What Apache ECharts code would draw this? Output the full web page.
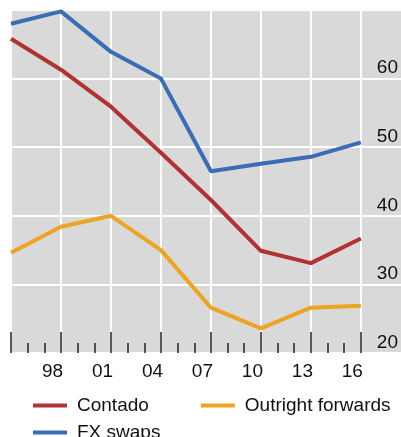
<!DOCTYPE html>
<html>
<head>
<meta charset="utf-8">
<script src="https://cdn.jsdelivr.net/npm/echarts@6/dist/echarts.min.js"></script>
<style>
html,body{margin:0;padding:0;background:#fff;}
#c{width:401px;height:437px;}
</style>
</head>
<body>
<div id="c"></div>
<script>
const years = [1995, 1998, 2001, 2004, 2007, 2010, 2013, 2016];
const contado = [65.8, 61.3, 55.9, 49.2, 42.3, 34.9, 33.1, 36.7];
const fxSwaps = [68.0, 69.8, 63.9, 60.0, 46.5, 47.6, 48.6, 50.7];
const outright = [34.6, 38.4, 40.0, 35.0, 26.6, 23.6, 26.6, 26.9];
const yTicks = [20, 30, 40, 50, 60];

const FONT = "'Liberation Sans', Arial, sans-serif";
const pair = arr => years.map((y, i) => [y, arr[i]]);

const chart = echarts.init(document.getElementById('c'), null, {renderer: 'canvas'});
chart.setOption({
  animation: false,
  backgroundColor: '#fff',
  grid: [
    {left: 11, right: 0, top: 10, bottom: 84, show: true, backgroundColor: '#d9d9d9', borderWidth: 0},
    {left: 11, right: 36, top: 10, bottom: 84}
  ],
  xAxis: [
    {gridIndex: 0, type: 'value', min: 0, max: 1, show: false},
    {
      gridIndex: 1, type: 'value', min: 1995, max: 2016, interval: 3,
      axisLine: {show: false},
      axisTick: {show: true, inside: true, length: 21, lineStyle: {color: '#222', width: 1.5}},
      minorTick: {show: true, splitNumber: 3, length: 10, lineStyle: {color: '#222', width: 1.5}},
      splitLine: {show: true, lineStyle: {color: '#fff', width: 2}},
      axisLabel: {
        fontFamily: FONT, fontSize: 19, color: '#111', margin: 9,
        padding: [0, 17, 0, 0],
        formatter: v => v === 1995 ? '' : String(v).slice(2)
      }
    }
  ],
  yAxis: [
    {
      gridIndex: 0, type: 'value', min: 20, max: 70, interval: 10,
      axisLine: {show: false}, axisTick: {show: false}, axisLabel: {show: false},
      splitLine: {show: true, lineStyle: {color: '#fff', width: 2}}
    },
    {
      gridIndex: 1, type: 'value', position: 'right', min: 20, max: 70, interval: 10,
      axisLine: {show: false}, axisTick: {show: false}, splitLine: {show: false},
      axisLabel: {
        fontFamily: FONT, fontSize: 19, color: '#111', margin: 16,
        verticalAlign: 'bottom', padding: [0, 0, 1, 0],
        formatter: v => yTicks.includes(v) ? String(v) : ''
      }
    }
  ],
  legend: [
    {
      data: ['Contado', 'Outright forwards'], left: 28, top: 391, itemGap: 52,
      icon: 'rect', itemWidth: 34, itemHeight: 4,
      textStyle: {fontFamily: FONT, fontSize: 19, color: '#111', padding: [0, 0, 0, 5]}
    },
    {
      data: ['FX swaps'], left: 28, top: 418,
      icon: 'rect', itemWidth: 34, itemHeight: 4,
      textStyle: {fontFamily: FONT, fontSize: 19, color: '#111', padding: [0, 0, 0, 5]}
    }
  ],
  series: [
    {name: 'Contado', type: 'line', xAxisIndex: 1, yAxisIndex: 1, data: pair(contado),
     showSymbol: false, lineStyle: {width: 4, color: '#b03232'}, itemStyle: {color: '#b03232'}},
    {name: 'FX swaps', type: 'line', xAxisIndex: 1, yAxisIndex: 1, data: pair(fxSwaps),
     showSymbol: false, lineStyle: {width: 4, color: '#3b6cb4'}, itemStyle: {color: '#3b6cb4'}},
    {name: 'Outright forwards', type: 'line', xAxisIndex: 1, yAxisIndex: 1, data: pair(outright),
     showSymbol: false, lineStyle: {width: 4, color: '#eda323'}, itemStyle: {color: '#eda323'}}
  ]
});
</script>
</body>
</html>
